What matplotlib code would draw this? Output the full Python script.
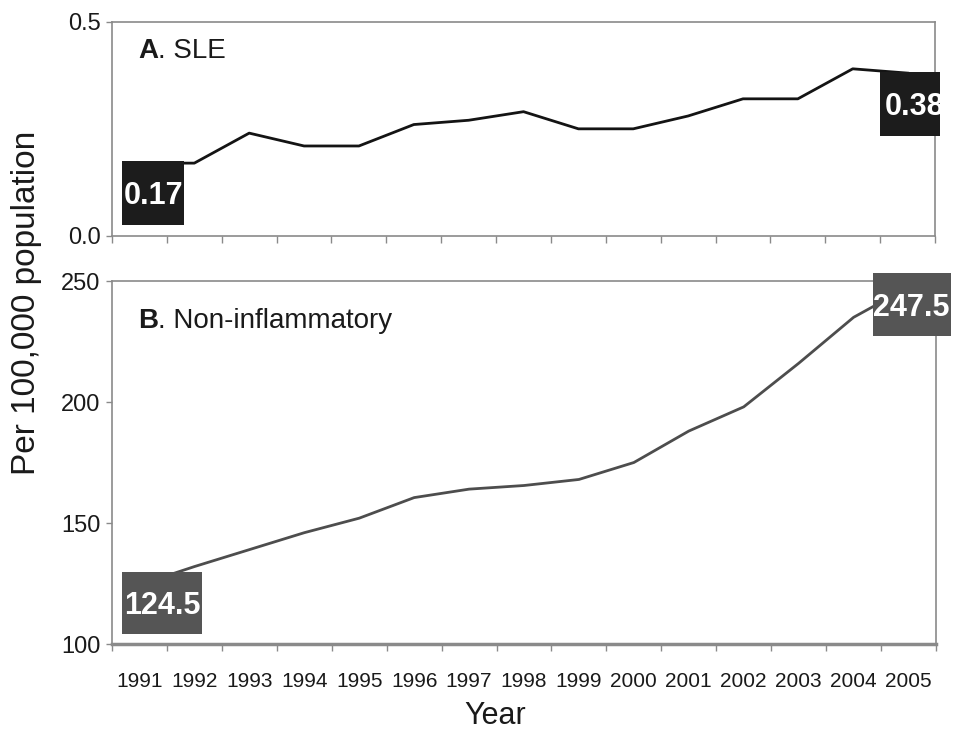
import matplotlib
matplotlib.use('Agg')
import matplotlib.pyplot as plt
import matplotlib.transforms as mtransforms
from matplotlib.patches import Rectangle
import numpy as np

# data
years = [str(y) for y in range(1991, 2006)]
sle_rate = [0.17, 0.17, 0.24, 0.21, 0.21, 0.26, 0.27, 0.29, 0.25, 0.25, 0.28, 0.32, 0.32, 0.39, 0.38]
noninf_rate = [124.5, 132, 139, 146, 152, 160.5, 164, 165.5, 168, 175, 188, 198, 216, 235, 247.5]
sle_ticks = [0.0, 0.5]
noninf_ticks = [100, 150, 200, 250]

plt.rcParams['font.family'] = ['Liberation Sans', 'DejaVu Sans']

spine_col = '#8a8a8a'
text_col = '#1a1a1a'

fig = plt.figure(figsize=(9.55, 7.32), dpi=100)
ax_a = fig.add_axes([0.1173, 0.6776, 0.8618, 0.2928])
ax_b = fig.add_axes([0.1173, 0.1202, 0.8628, 0.4959])

x = np.arange(len(years))

ax_a.plot(x, sle_rate, color='#141414', lw=2)
ax_b.plot(x, noninf_rate, color='#4d4d4d', lw=2)

for ax in (ax_a, ax_b):
    ax.set_xlim(-0.5, len(years) - 0.5)
    ax.set_xticks(np.arange(len(years) + 1) - 0.5)
    ax.tick_params(axis='x', which='major', length=5, width=1, color=spine_col,
                   labelbottom=False)
    ax.tick_params(axis='y', length=4.3, width=1, color=spine_col, labelsize=17,
                   pad=4, labelcolor=text_col)
    for s in ax.spines.values():
        s.set_color(spine_col)
        s.set_linewidth(1.2)

ax_a.set_ylim(0, 0.5)
ax_a.set_yticks(sle_ticks, ['%.1f' % v for v in sle_ticks])
ax_b.set_ylim(100, 250)
ax_b.set_yticks(noninf_ticks, [str(v) for v in noninf_ticks])
ax_b.spines['bottom'].set_linewidth(2.5)

# year labels sit between the boundary ticks
ax_b.set_xticks(x, years, minor=True)
ax_b.tick_params(axis='x', which='minor', length=0, pad=20, labelsize=15,
                 labelcolor=text_col)


# boxed value labels at the first and last year, sizes in pixels
def end_label(ax, i, vals, text, color, box, txt_x, ha):
    trans = mtransforms.Affine2D() + mtransforms.ScaledTranslation(x[i], vals[i], ax.transData)
    rect = Rectangle(box[:2], box[2], box[3], transform=trans, facecolor=color,
                     edgecolor='none', clip_on=False, zorder=5)
    ax.add_artist(rect)
    t = ax.text(txt_x, box[1] + box[3] / 2 - 11, text, transform=trans, ha=ha,
                va='baseline', color='white', fontsize=22, fontweight='bold',
                zorder=6)
    t.set_clip_on(True)
    t.set_clip_path(rect)


end_label(ax_a, 0, sle_rate, '%.2f' % sle_rate[0], '#1c1c1c', (-17, -62, 62, 64), 14, 'center')
end_label(ax_a, -1, sle_rate, '%.2f' % sle_rate[-1], '#1c1c1c', (-28, -63, 60, 64), -23, 'left')
end_label(ax_b, 0, noninf_rate, '%.1f' % noninf_rate[0], '#555555', (-17, -49, 80, 62), 23, 'center')
end_label(ax_b, -1, noninf_rate, '%.1f' % noninf_rate[-1], '#555555', (-36, -49, 78, 63), 3, 'center')


def panel_label(ax, y, letter, rest):
    t = ax.text(0.0316, y, letter, transform=ax.transAxes, fontsize=20,
                fontweight='bold', va='baseline', color=text_col)
    ax.annotate(rest, xy=(1, 0), xycoords=t, va='bottom', fontsize=20, color=text_col)


panel_label(ax_a, 0.8306, 'A', '. SLE')
panel_label(ax_b, 0.8697, 'B', '. Non-inflammatory')

fig.text(27 / 955, 0.586, 'Per 100,000 population', rotation=90, ha='center',
         va='center', fontsize=24, color=text_col)
fig.text(495 / 955, 8 / 732, 'Year', ha='center', va='baseline', fontsize=22,
         color=text_col)

fig.savefig('out.png', dpi=100)
